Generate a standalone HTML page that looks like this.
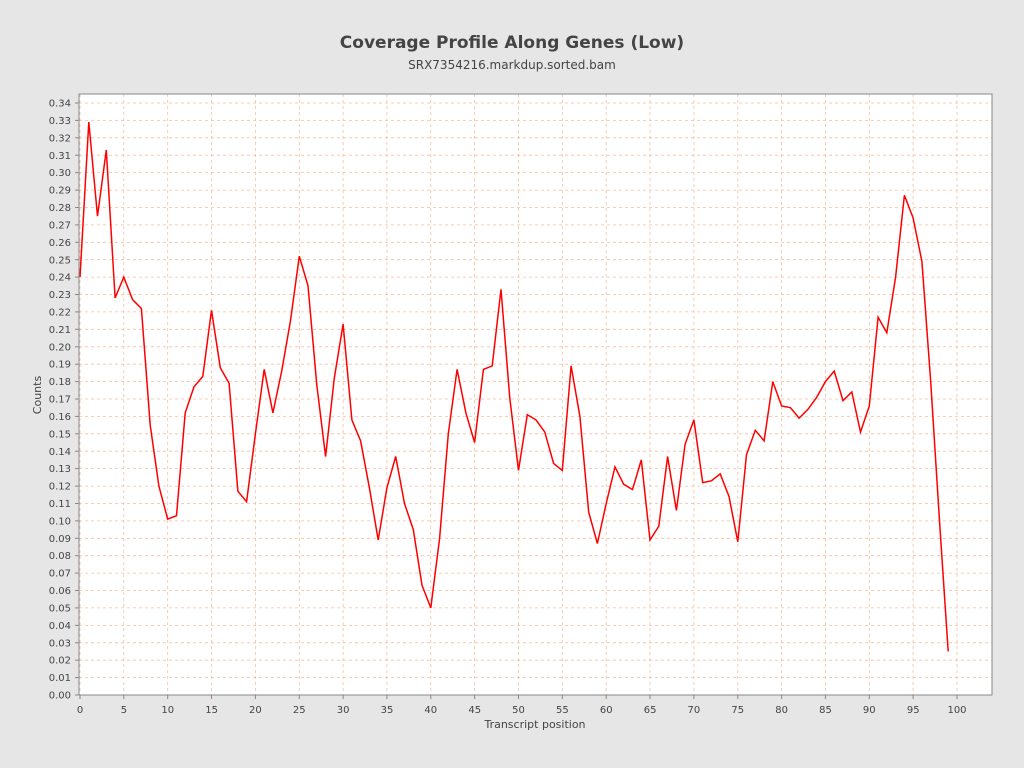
<!DOCTYPE html>
<html><head><meta charset="utf-8"><style>
html,body{margin:0;padding:0;background:#e6e6e6;}
svg{display:block;font-family:"DejaVu Sans","Liberation Sans",sans-serif;}
</style></head><body>
<svg id="s" width="1024" height="768" xmlns="http://www.w3.org/2000/svg">
<rect width="1024" height="768" fill="#e6e6e6"/>
<text x="512" y="48" text-anchor="middle" font-size="17" font-weight="bold" fill="#444">Coverage Profile Along Genes (Low)</text>
<text x="512" y="69" text-anchor="middle" font-size="12" fill="#444">SRX7354216.markdup.sorted.bam</text>
<rect x="79" y="94" width="913" height="601" fill="#fff"/>
<g id="grid" stroke="#f0c0a0" stroke-width="0.8" stroke-dasharray="3,3"></g>
<polyline id="line" fill="none" stroke="#ff0000" stroke-width="1.5"/>
<rect x="79" y="94" width="913" height="601" fill="none" stroke="#888"/>
<g font-size="10" fill="#444" text-anchor="end">
<text x="71" y="698.5">0.00</text><text x="71" y="681.1">0.01</text><text x="71" y="663.7">0.02</text><text x="71" y="646.3">0.03</text><text x="71" y="628.9">0.04</text><text x="71" y="611.4">0.05</text><text x="71" y="594">0.06</text><text x="71" y="576.6">0.07</text><text x="71" y="559.2">0.08</text><text x="71" y="541.8">0.09</text><text x="71" y="524.4">0.10</text><text x="71" y="507">0.11</text><text x="71" y="489.6">0.12</text><text x="71" y="472.2">0.13</text><text x="71" y="454.8">0.14</text><text x="71" y="437.4">0.15</text><text x="71" y="419.9">0.16</text><text x="71" y="402.5">0.17</text><text x="71" y="385.1">0.18</text><text x="71" y="367.7">0.19</text><text x="71" y="350.3">0.20</text><text x="71" y="332.9">0.21</text><text x="71" y="315.5">0.22</text><text x="71" y="298.1">0.23</text><text x="71" y="280.7">0.24</text><text x="71" y="263.3">0.25</text><text x="71" y="245.8">0.26</text><text x="71" y="228.4">0.27</text><text x="71" y="211">0.28</text><text x="71" y="193.6">0.29</text><text x="71" y="176.2">0.30</text><text x="71" y="158.8">0.31</text><text x="71" y="141.4">0.32</text><text x="71" y="124">0.33</text><text x="71" y="106.6">0.34</text>
</g>
<g font-size="10" fill="#444" text-anchor="middle">
<text x="80" y="713">0</text><text x="123.9" y="713">5</text><text x="167.7" y="713">10</text><text x="211.6" y="713">15</text><text x="255.4" y="713">20</text><text x="299.3" y="713">25</text><text x="343.1" y="713">30</text><text x="387" y="713">35</text><text x="430.8" y="713">40</text><text x="474.7" y="713">45</text><text x="518.5" y="713">50</text><text x="562.4" y="713">55</text><text x="606.2" y="713">60</text><text x="650.1" y="713">65</text><text x="693.9" y="713">70</text><text x="737.8" y="713">75</text><text x="781.6" y="713">80</text><text x="825.5" y="713">85</text><text x="869.3" y="713">90</text><text x="913.2" y="713">95</text><text x="957" y="713">100</text>
</g>
<text x="535" y="728" text-anchor="middle" font-size="11" fill="#444">Transcript position</text>
<text x="41" y="395" text-anchor="middle" font-size="11" fill="#444" transform="rotate(-90 41 395)">Counts</text>
</svg>
<script>
var d=[0.24,0.329,0.275,0.313,0.228,0.240,0.227,0.222,0.155,0.120,0.101,0.103,0.162,0.177,0.183,0.221,0.188,0.179,0.117,0.111,0.150,0.187,0.162,0.186,0.215,0.252,0.235,0.178,0.137,0.182,0.213,0.158,0.146,0.119,0.089,0.119,0.137,0.110,0.095,0.063,0.050,0.090,0.150,0.187,0.162,0.145,0.187,0.189,0.233,0.171,0.129,0.161,0.158,0.151,0.133,0.129,0.189,0.160,0.105,0.087,0.110,0.131,0.121,0.118,0.135,0.089,0.097,0.137,0.106,0.144,0.158,0.122,0.123,0.127,0.114,0.088,0.138,0.152,0.146,0.180,0.166,0.165,0.159,0.164,0.171,0.180,0.186,0.169,0.174,0.151,0.166,0.217,0.208,0.240,0.287,0.274,0.249,0.180,0.100,0.025];
var X=function(i){return 80+i*8.77},Y=function(v){return 695-v*1741.2};
document.getElementById('line').setAttribute('points',d.map(function(v,i){return X(i).toFixed(1)+','+Y(v).toFixed(1)}).join(' '));
var g=document.getElementById('grid'),ns='http://www.w3.org/2000/svg',h='';
for(var i=0;i<=34;i++){var y=Y(i/100).toFixed(1);h+='<line x1="79" x2="992" y1="'+y+'" y2="'+y+'"/>';}
for(var k=0;k<=100;k+=5){var x=X(k).toFixed(1);h+='<line y1="94" y2="695" x1="'+x+'" x2="'+x+'"/>';}
g.innerHTML=h;
var t='';for(var k=0;k<=100;k+=5){var x=X(k).toFixed(1);t+='<line y1="695" y2="699" x1="'+x+'" x2="'+x+'" stroke="#888"/>';}
for(var i=0;i<=34;i++){var y=Y(i/100).toFixed(1);t+='<line x1="75" x2="79" y1="'+y+'" y2="'+y+'" stroke="#888"/>';}
var tg=document.createElementNS(ns,'g');tg.innerHTML=t;document.getElementById('s').appendChild(tg);
</script>
</body></html>
